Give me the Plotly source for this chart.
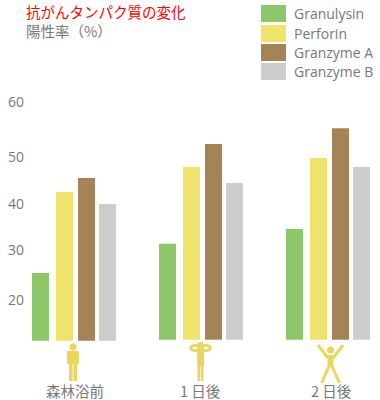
import plotly.graph_objects as go

categories = ["森林浴前", "1 日後", "2 日後"]
series_names = ["Granulysin", "Perforin", "Granzyme A", "Granzyme B"]
granulysin = [25.6, 31.7, 34.8]
perforin = [42.5, 47.7, 49.6]
granzyme_a = [45.4, 52.5, 55.8]
granzyme_b = [40.0, 44.4, 47.7]
baseline = [11.5, 11.7, 11.7]
tick_labels = ["20", "30", "40", "50", "60"]
tick_positions = [20.0, 30.4, 40.0, 49.8, 61.2]

colors = ["#8EC76A", "#F0E36C", "#A48356", "#CECCCC"]
series = [granulysin, perforin, granzyme_a, granzyme_b]
offsets_px = [-42, -18, 4, 25]
GROUP_PX = 127.0
W, H = 380, 400
GREY = "#777777"
CJK = "Noto Sans CJK JP"
LATIN = "Open Sans"
ICON = "#E8D75C"


def px(x):
    return x / W


def py(y):
    return 1 - y / H


fig = go.Figure()
for name, vals, col, off in zip(series_names, series, colors, offsets_px):
    fig.add_trace(go.Bar(
        name=name, x=[0, 1, 2], y=[v - b for v, b in zip(vals, baseline)], base=baseline,
        width=17 / GROUP_PX, offset=off / GROUP_PX, marker=dict(color=col, line=dict(width=0)),
        showlegend=False, hoverinfo="skip"))

shapes = []
annotations = []


def text(x, y, s, size, color=GREY, font=LATIN, anchor="left"):
    annotations.append(dict(xref="paper", yref="paper", x=px(x), y=py(y), text=s, showarrow=False,
                            xanchor=anchor, yanchor="middle", align=anchor,
                            font=dict(family=font, size=size, color=color)))


def line(x0, y0, x1, y1, w):
    shapes.append(dict(type="line", xref="paper", yref="paper", x0=px(x0), y0=py(y0), x1=px(x1), y1=py(y1),
                       line=dict(color=ICON, width=w), layer="above"))


def disc(cx, cy, r):
    shapes.append(dict(type="circle", xref="paper", yref="paper", x0=px(cx - r), x1=px(cx + r),
                       y0=py(cy - r), y1=py(cy + r), fillcolor=ICON, line=dict(width=0)))


def ring(cx, cy, rx, ry, w):
    shapes.append(dict(type="circle", xref="paper", yref="paper", x0=px(cx - rx), x1=px(cx + rx),
                       y0=py(cy - ry), y1=py(cy + ry), fillcolor="rgba(0,0,0,0)",
                       line=dict(color=ICON, width=w)))


def box(x0, y0, x1, y1, col=ICON):
    shapes.append(dict(type="rect", xref="paper", yref="paper", x0=px(x0), x1=px(x1), y0=py(y0), y1=py(y1),
                       fillcolor=col, line=dict(width=0)))


# legend
for name, col, top in zip(series_names, colors, [5, 25, 44, 63]):
    box(261, top, 286, top + 17, col)
    text(291.5, top + 8.5, name, 14)

text(23.5, 21.5, "<span style='color:#FF0000'>抗がんタンパク質の変化</span><br>陽性率（%）", 14.5, GREY, CJK)
text(75, 390.5, categories[0], 14.5, GREY, CJK, "center")
text(200.5, 390.5, categories[1], 14.5, GREY, CJK, "center")
text(331, 390.5, categories[2], 14.5, GREY, CJK, "center")

# standing figure
disc(73, 347, 3.5)
box(67, 351, 79, 364)
box(69, 364, 72.6, 381)
box(73.4, 364, 77, 381)
# hands on head
disc(200.5, 345.5, 3.5)
ring(195, 348, 4.3, 2.6, 3)
ring(206, 348, 4.3, 2.6, 3)
box(197, 350, 204, 366)
box(197.5, 366, 200.2, 381)
box(200.8, 366, 203.5, 381)
# arms up
disc(330.5, 350, 3.5)
line(318, 345, 328, 358, 3)
line(343, 345, 333, 358, 3)
box(327.5, 355, 333.5, 366)
line(329.5, 365, 321.5, 383, 3)
line(331.5, 365, 339.5, 383, 3)

fig.update_layout(
    width=W, height=H, margin=dict(l=0, r=0, t=0, b=0), autosize=False,
    paper_bgcolor="white", plot_bgcolor="white", barmode="overlay", showlegend=False,
    shapes=shapes, annotations=annotations,
    xaxis=dict(range=[-74 / GROUP_PX, (W - 74) / GROUP_PX], visible=False),
    yaxis=dict(range=[40 - 196 / 4.8, 40 + 204 / 4.8], showgrid=False, zeroline=False, showline=False,
               tickmode="array", tickvals=tick_positions, ticktext=tick_labels, ticks="",
               ticklabelposition="inside", ticklabelstandoff=5,
               tickfont=dict(family=LATIN, size=14, color=GREY)),
)
fig.write_html("out.html", post_script="document.body.style.margin='0';document.body.style.overflow='hidden';",
               config={"displayModeBar": False})
